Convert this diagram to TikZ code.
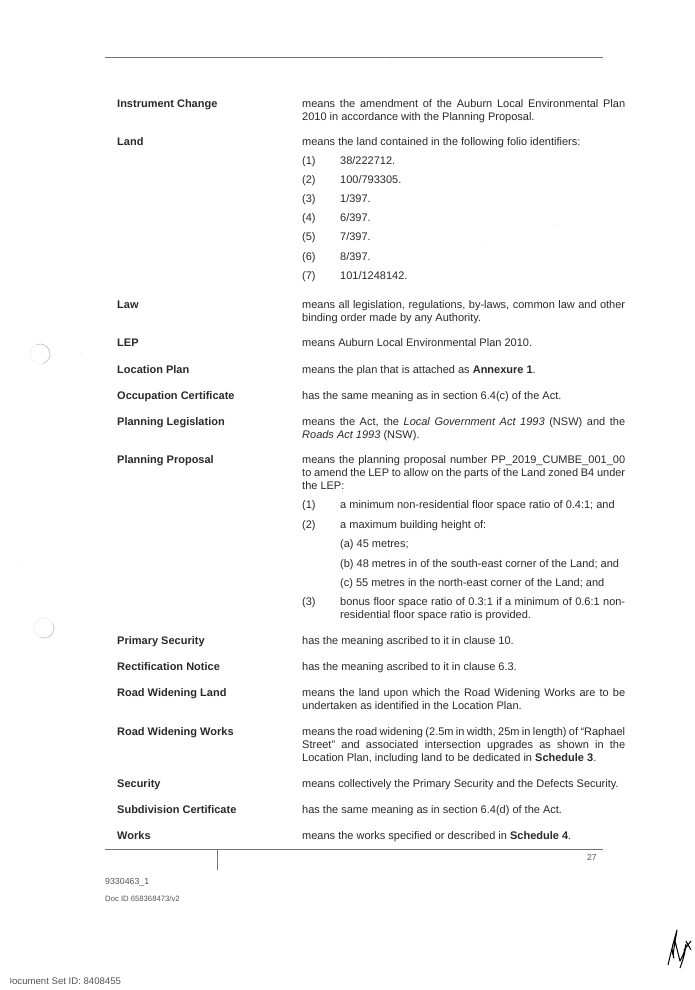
\documentclass[tikz,border=0pt]{standalone}
\usepackage{fontspec}
\setmainfont{Liberation Sans}
\definecolor{inkgray}{gray}{0.16}
\definecolor{rulegray}{gray}{0.45}
\definecolor{holegray}{gray}{0.80}
\tikzset{
  termlabel/.style={anchor=base west, inner sep=0pt, text=inkgray, font=\fontsize{11}{13}\selectfont\bfseries},
  meaning/.style={anchor=north west, inner sep=0pt, text=inkgray, text width=323pt, align=justify,
    font=\fontsize{11}{13}\selectfont, execute at begin node={\hyphenpenalty=10000 \strut}},
  itemtext/.style={meaning, text width=#1},
  itemtext/.default=285pt,
  itemnum/.style={anchor=base west, inner sep=0pt, text=inkgray, font=\fontsize{11}{13}\selectfont},
  smalltext/.style={anchor=base west, inner sep=0pt, text=inkgray!80, font=\fontsize{#1}{10}\selectfont},
  pagerule/.style={draw=rulegray, line width=0.9pt},
  holemark/.style={draw=holegray, line width=0.8pt},
  holefaint/.style={draw=holegray!25, line width=0.8pt},
  speck/.style={fill=holegray, draw=none},
}
\begin{document}
\begin{tikzpicture}[x=1pt,y=-1pt]
  \useasboundingbox (0,0) rectangle (694,990);
  % 1. Rules of the page
  \coordinate (topl) at (105,57);
  \coordinate (topr) at (603,57);
  \coordinate (botl) at (105,849);
  \coordinate (botr) at (603,849);
  \coordinate (tick) at (217,870);
  \draw[pagerule] (topl) -- (topr);
  \draw[pagerule] (botl) -- (botr);
  \draw[pagerule] (217,849) -- (tick);

  % 2. Defined terms
  \foreach \name/\ypos/\txt in {
    instr/107/Instrument Change, land/145/Land, law/308/Law, lep/346/LEP,
    locplan/373/Location Plan, occup/399/Occupation Certificate,
    planleg/425/Planning Legislation, planprop/463/Planning Proposal,
    primsec/644/Primary Security, rectif/670/Rectification Notice,
    roadland/696/Road Widening Land, roadworks/735/Road Widening Works,
    secur/787/Security, subdiv/813/Subdivision Certificate, works/839/Works}
    \node[termlabel] (\name) at (117,\ypos) {\txt};

  % 3. Meanings, top of each node sits 9pt above the first baseline
  \node[meaning] (m-instr) at (302,98) {means the amendment of the Auburn Local Environmental Plan 2010 in accordance with the Planning Proposal.};
  \node[meaning] (m-land) at (302,136) {means the land contained in the following folio identifiers:};
  \node[meaning] (m-law) at (302,299) {means all legislation, regulations, by-laws, common law and other binding order made by any Authority.};
  \node[meaning] (m-lep) at (302,337) {means Auburn Local Environmental Plan 2010.};
  \node[meaning] (m-locplan) at (302,364) {means the plan that is attached as \textbf{Annexure 1}.};
  \node[meaning] (m-occup) at (302,390) {has the same meaning as in section 6.4(c) of the Act.};
  \node[meaning] (m-planleg) at (302,416) {means the Act, the \textit{Local Government Act 1993} (NSW) and the \textit{Roads Act 1993} (NSW).};
  \node[meaning] (m-planprop) at (302,454) {means the planning proposal number PP\_2019\_CUMBE\_001\_00 to amend the LEP to allow on the parts of the Land zoned B4 under the LEP:};
  \node[meaning] (m-primsec) at (302,635) {has the meaning ascribed to it in clause 10.};
  \node[meaning] (m-rectif) at (302,661) {has the meaning ascribed to it in clause 6.3.};
  \node[meaning] (m-roadland) at (302,687) {means the land upon which the Road Widening Works are to be undertaken as identified in the Location Plan.};
  \node[meaning] (m-roadworks) at (302,726) {means the road widening (2.5m in width, 25m in length) of ``Raphael Street'' and associated intersection upgrades as shown in the Location Plan, including land to be dedicated in \textbf{Schedule 3}.};
  \node[meaning] (m-secur) at (302,778) {means collectively the Primary Security and the Defects Security.};
  \node[meaning] (m-subdiv) at (302,804) {has the same meaning as in section 6.4(d) of the Act.};
  \node[meaning] (m-works) at (302,830) {means the works specified or described in \textbf{Schedule 4}.};

  % 4. Folio identifiers
  \foreach \num/\ypos/\txt in {1/164/38\slash 222712., 2/183/100\slash 793305., 3/202/1\slash 397.,
    4/221/6\slash 397., 5/240/7\slash 397., 6/260/8\slash 397., 7/279/101\slash 1248142.} {
    \node[itemnum] (fnum\num) at (302,\ypos) {(\num)};
    \node[itemnum] (ftxt\num) at (340,\ypos) {\txt};
  }

  % 5. Planning proposal items
  \node[itemnum] (pnum1) at (302,508) {(1)};
  \node[itemnum] (ptxt1) at (340,508) {a minimum non-residential floor space ratio of 0.4:1; and};
  \node[itemnum] (pnum2) at (302,528) {(2)};
  \node[itemnum] (ptxt2) at (340,528) {a maximum building height of:};
  \node[itemnum] (suba) at (340,547) {(a) 45 metres;};
  \node[itemnum] (subb) at (340,567) {(b) 48 metres in of the south-east corner of the Land; and};
  \node[itemnum] (subc) at (340,586) {(c) 55 metres in the north-east corner of the Land; and};
  \node[itemnum] (pnum3) at (302,605) {(3)};
  \node[itemtext] (ptxt3) at (340,596) {bonus floor space ratio of 0.3:1 if a minimum of 0.6:1 non-residential floor space ratio is provided.};

  % 6. Footer
  \node[smalltext=8.6] (pagenum) at (587,860) {27};
  \node[smalltext=8.8] (docref) at (105,884) {9330463\_1};
  \node[smalltext=7.7] (docid) at (105,901) {Doc ID 658368473/v2};
  \node[smalltext=9.6] (setid) at (5,984) {Document Set ID: 8408455};
  \fill[white] (0,972) rectangle (10,990); % first letter is cut by the scan

  % 7. Punch holes and specks
  \draw[holefaint] (40,354) circle (10);
  \draw[holemark] (40,354) ++(-110:10) arc (-110:70:10);
  \draw[holefaint] (44,628) circle (10);
  \draw[holemark] (44,628) ++(-30:10) arc (-30:110:10);
  \foreach \xpos/\ypos in {555/225, 483/246, 81/354, 18/563, 390/62}
    \fill[speck] (\xpos,\ypos) circle (0.7);

  % 8. Initials
  \draw[black, line width=1pt, line join=round]
    (668,965) .. controls (671,952) and (674,940) .. (677,930)
    -- (674,948) .. controls (673,955) and (673,958) .. (674,958)
    .. controls (671,950) and (672,943) .. (675,941)
    -- (680,961) .. controls (683,956) and (685,950) .. (686,944)
    .. controls (685,955) and (682,962) .. (680,968)
    (684,950) -- (691,941) (686,941) -- (691,950);
\end{tikzpicture}
\end{document}
